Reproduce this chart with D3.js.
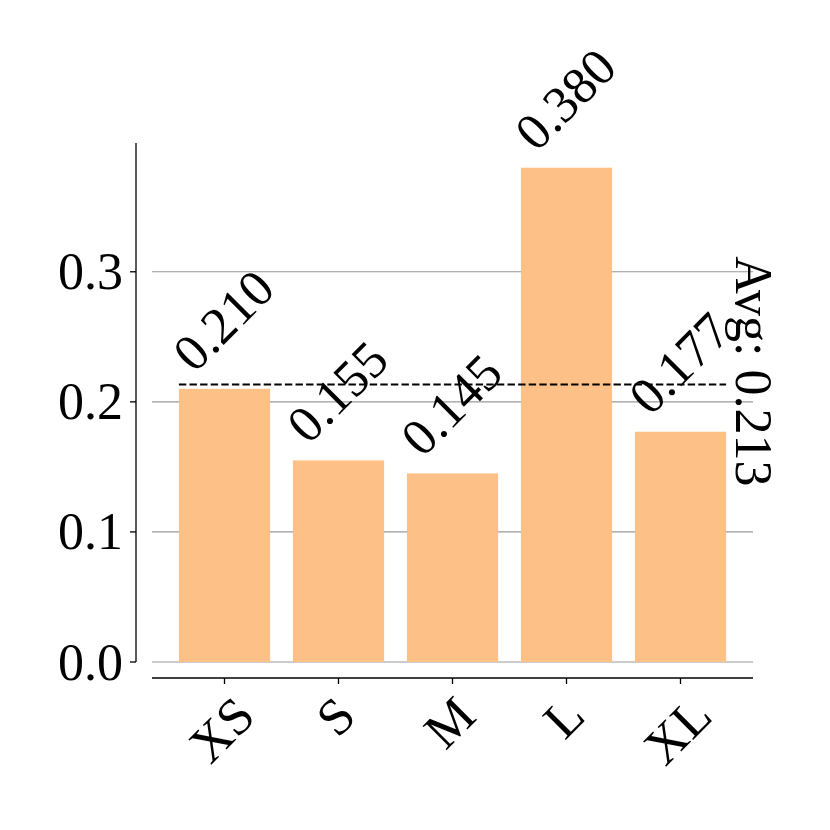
<!DOCTYPE html>
<html>
<head>
<meta charset="utf-8">
<script src="https://cdn.jsdelivr.net/npm/d3@7"></script>
<style>
  body { margin: 0; background: #fff; }
  text { font-family: "Liberation Serif", "Times New Roman", serif; fill: #000; }
</style>
</head>
<body>
<svg id="chart" width="830" height="830"></svg>
<script>
const categories = ["XS", "S", "M", "L", "XL"];
const values = [0.210, 0.155, 0.145, 0.380, 0.177];
const yTicks = [0.0, 0.1, 0.2, 0.3];

const svg = d3.select("#chart");
const fontSize = 52;
const barColor = "#fdc086";

const plotLeft = 152, plotRight = 753, plotTop = 143, plotBottom = 662;
const yMax = d3.max(values) * 1.05;
const y = d3.scaleLinear().domain([0, yMax]).range([plotBottom, plotTop]);
const x = d3.scaleLinear().domain([-0.636, categories.length - 1 + 0.636]).range([plotLeft, plotRight]);
const barW = x(0.4) - x(0);

// grid
svg.append("g").selectAll("line").data(yTicks).join("line")
  .attr("x1", plotLeft).attr("x2", plotRight)
  .attr("y1", d => y(d)).attr("y2", d => y(d))
  .attr("stroke", "#999999").attr("stroke-width", 1.2);

// bars
svg.append("g").selectAll("rect").data(values).join("rect")
  .attr("x", (d, i) => x(i) - barW)
  .attr("width", 2 * barW)
  .attr("y", d => y(d))
  .attr("height", d => y(0) - y(d))
  .attr("fill", barColor);

// avg line
const avg = d3.mean(values);
svg.append("line")
  .attr("x1", x(0) - barW).attr("x2", x(categories.length - 1) + barW)
  .attr("y1", y(avg)).attr("y2", y(avg))
  .attr("stroke", "#000").attr("stroke-width", 2)
  .attr("stroke-dasharray", "7.4,3.2");

function rotatedText(txt, angle, fs) {
  const g = svg.append("g");
  g.append("text").text(txt)
    .attr("font-size", fs)
    .attr("text-anchor", "middle")
    .attr("dominant-baseline", "central")
    .attr("transform", `rotate(${angle})`);
  return g;
}

// value labels
values.forEach((v, i) => {
  const g = rotatedText(v.toFixed(3), -45, fontSize);
  const bb = g.node().getBBox();
  const cx = x(i) - 1, bottom = y(v) - 7;
  g.attr("transform", `translate(${cx - (bb.x + bb.width / 2)},${bottom - (bb.y + bb.height)})`);
});

// avg label
{
  const g = rotatedText("Avg: " + avg.toFixed(3), 90, fontSize);
  const bb = g.node().getBBox();
  g.attr("transform", `translate(${753 - (bb.x + bb.width / 2)},${y(avg) - 13 - (bb.y + bb.height / 2)})`);
}

// left spine (offset)
const spineX = 136;
svg.append("line").attr("x1", spineX).attr("x2", spineX)
  .attr("y1", plotTop).attr("y2", plotBottom)
  .attr("stroke", "#000").attr("stroke-width", 1.3);
svg.append("g").selectAll("line").data(yTicks).join("line")
  .attr("x1", spineX - 6).attr("x2", spineX)
  .attr("y1", d => y(d)).attr("y2", d => y(d))
  .attr("stroke", "#000").attr("stroke-width", 1.3);
svg.append("g").selectAll("text").data(yTicks).join("text")
  .attr("x", spineX - 13).attr("y", d => y(d))
  .attr("text-anchor", "end").attr("dominant-baseline", "central")
  .attr("font-size", fontSize)
  .text(d => d.toFixed(1));

// bottom spine (offset)
const spineY = 678;
svg.append("line").attr("x1", plotLeft).attr("x2", plotRight)
  .attr("y1", spineY).attr("y2", spineY)
  .attr("stroke", "#000").attr("stroke-width", 1.3);
svg.append("g").selectAll("line").data(categories).join("line")
  .attr("x1", (d, i) => x(i)).attr("x2", (d, i) => x(i))
  .attr("y1", spineY).attr("y2", spineY + 6)
  .attr("stroke", "#000").attr("stroke-width", 1.3);
categories.forEach((c, i) => {
  const g = rotatedText(c, -45, fontSize);
  const bb = g.node().getBBox();
  const cx = x(i) - 3, top = spineY + 8;
  g.attr("transform", `translate(${cx - (bb.x + bb.width / 2)},${top - bb.y})`);
});
</script>
</body>
</html>
